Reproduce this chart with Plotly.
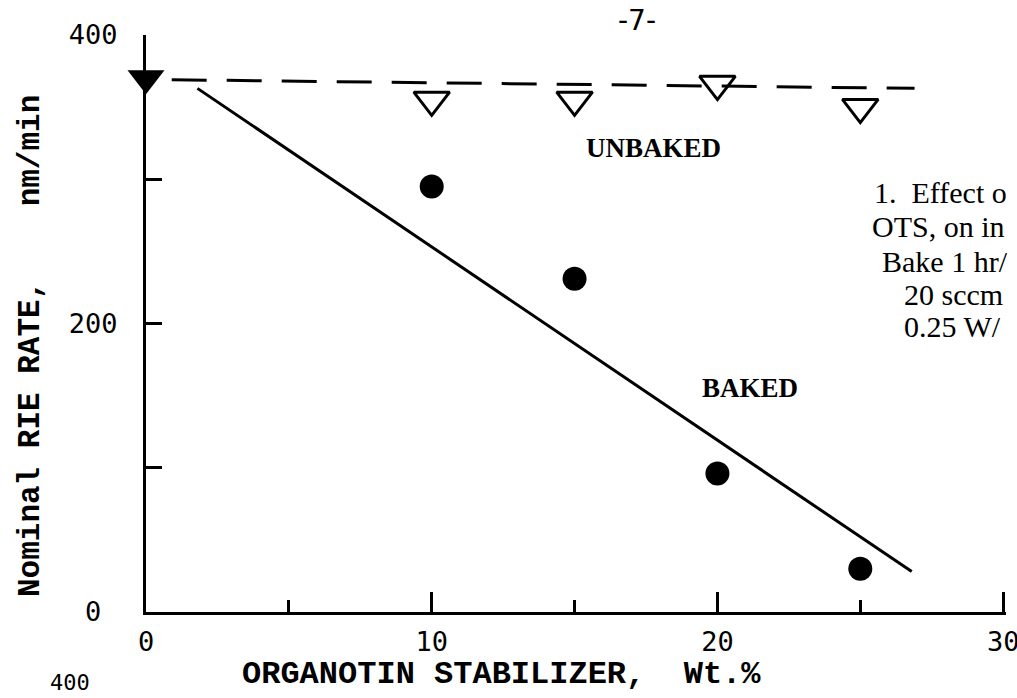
import plotly.graph_objects as go

# ---- data ----
x_unbaked = [10, 15, 20, 25]
y_unbaked = [355, 355, 366, 350]

x_baked = [10, 15, 20, 25]
y_baked = [295, 231, 96, 30]

x_control = [0]
y_control = [370]

x_unbaked_fit = [0.9, 26.9]
y_unbaked_fit = [369, 363]

x_baked_fit = [1.8, 26.8]
y_baked_fit = [363, 28]

x_tickvals = [0, 10, 20, 30]
x_ticktext = ["0", "10", "20", "30"]
x_minor_ticks = [5, 15, 25]
y_tickvals = [0, 100, 200, 300, 400]
y_ticktext = ["0\u00a0", "", "200", "", "400"]

note_lines = ["1.  Effect o", "OTS, on in", "Bake 1 hr/", "20 sccm", "0.25 W/"]

W, H = 1017, 698
L, R, T, B = 146, 11, 35, 86
PW, PH = W - L - R, H - T - B
X_RANGE = [0, 30.1]


def px(xp):
    return (xp - L) / PW


def py(yp):
    return (H - B - yp) / PH


fig = go.Figure()

fig.add_trace(go.Scatter(
    x=x_unbaked_fit, y=y_unbaked_fit, mode="lines",
    line=dict(color="black", width=3, dash="35px,20px"),
    showlegend=False, hoverinfo="skip", cliponaxis=False))
fig.add_trace(go.Scatter(
    x=x_baked_fit, y=y_baked_fit, mode="lines",
    line=dict(color="black", width=3),
    showlegend=False, hoverinfo="skip", cliponaxis=False))
fig.add_trace(go.Scatter(
    x=x_unbaked, y=y_unbaked, mode="markers", name="UNBAKED",
    marker=dict(symbol="triangle-down-open", size=31, color="black",
                line=dict(width=3, color="black")),
    showlegend=False, cliponaxis=False))
fig.add_trace(go.Scatter(
    x=x_baked, y=y_baked, mode="markers", name="BAKED",
    marker=dict(symbol="circle", size=24, color="black"),
    showlegend=False, cliponaxis=False))
fig.add_trace(go.Scatter(
    x=x_control, y=y_control, mode="markers", name="0 %",
    marker=dict(symbol="triangle-down", size=32, color="black"),
    showlegend=False, cliponaxis=False))

tick_font = dict(family="DejaVu Sans Mono", size=27, color="black")

fig.update_xaxes(
    range=X_RANGE, showgrid=False, zeroline=False,
    showline=True, linecolor="black", linewidth=3, automargin=False,
    ticks="inside", ticklen=20, tickwidth=3, tickcolor="black",
    tickvals=x_tickvals, ticktext=x_ticktext, tickfont=tick_font,
    ticklabelstandoff=4, ticklabeloverflow="allow",
    minor=dict(tickvals=x_minor_ticks, ticks="inside", ticklen=12,
               tickwidth=3, tickcolor="black"),
)
fig.update_yaxes(
    range=[0, 400], showgrid=False, zeroline=False, automargin=False,
    showline=True, linecolor="black", linewidth=3,
    ticks="inside", ticklen=16, tickwidth=3, tickcolor="black",
    tickvals=y_tickvals, ticktext=y_ticktext, tickfont=tick_font,
    ticklabelstandoff=20,
)

ann = []
# axis titles
ann.append(dict(text="ORGANOTIN STABILIZER,\u00a0\u00a0Wt.%",
                xref="paper", yref="paper", x=px(240), y=py(674),
                xanchor="left", yanchor="middle", showarrow=False,
                font=dict(family="Liberation Mono", size=32, color="black", weight="bold")))
ann.append(dict(text="Nominal RIE RATE,\u00a0\u00a0\u00a0\u00a0nm/min",
                xref="paper", yref="paper", x=px(30), y=py(346),
                xanchor="center", yanchor="middle", textangle=-90, showarrow=False,
                font=dict(family="Liberation Mono", size=31, color="black", weight="bold")))
# series labels
ann.append(dict(text="UNBAKED", x=17.75, y=322, xref="x", yref="y",
                showarrow=False, xanchor="center", yanchor="middle",
                font=dict(family="Liberation Serif", size=27, color="black", weight="bold")))
ann.append(dict(text="BAKED", x=21.14, y=155, xref="x", yref="y",
                showarrow=False, xanchor="center", yanchor="middle",
                font=dict(family="Liberation Serif", size=27, color="black", weight="bold")))
# caption fragment at right edge
note_x = [872, 870, 880, 902, 902]
note_y = [192, 227, 261, 294, 327]
for t, xx, yy in zip(note_lines, note_x, note_y):
    ann.append(dict(text=t, xref="paper", yref="paper", x=px(xx), y=py(yy),
                    xanchor="left", yanchor="middle", showarrow=False,
                    font=dict(family="Liberation Serif", size=30, color="black")))
# page mark and the label of the next chart below
ann.append(dict(text="-7-", xref="paper", yref="paper", x=px(637), y=py(20),
                xanchor="center", yanchor="middle", showarrow=False,
                font=dict(family="DejaVu Sans", size=28, color="black")))
ann.append(dict(text="400", xref="paper", yref="paper", x=px(70), y=py(682),
                xanchor="center", yanchor="middle", showarrow=False,
                font=dict(family="DejaVu Sans Mono", size=22, color="black")))

fig.update_layout(
    width=W, height=H,
    margin=dict(l=L, r=R, t=T, b=B),
    paper_bgcolor="white", plot_bgcolor="white",
    showlegend=False,
    annotations=ann,
)

fig.write_html("out.html")
